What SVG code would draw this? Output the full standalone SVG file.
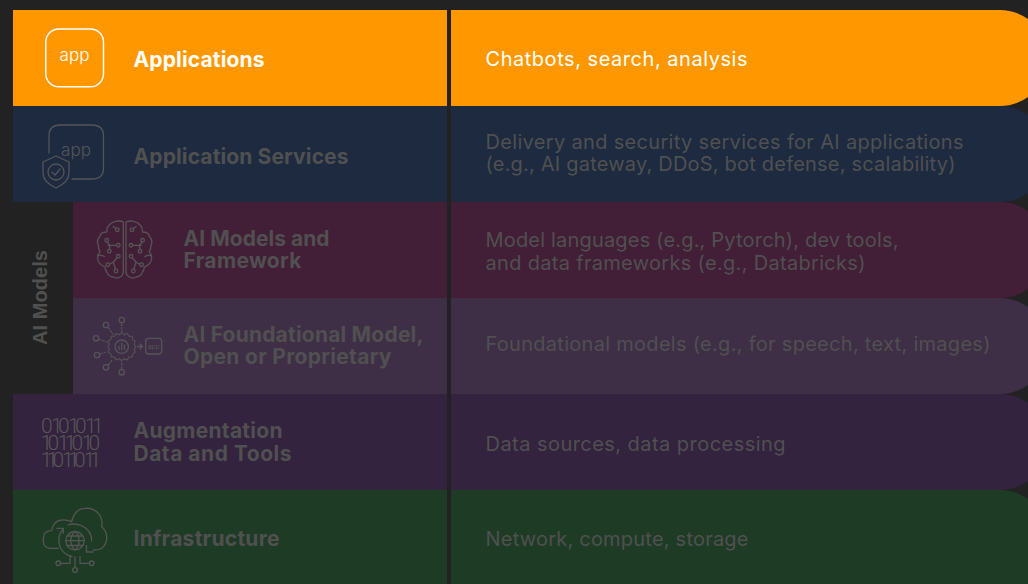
<svg xmlns="http://www.w3.org/2000/svg" width="1028" height="584" viewBox="0 0 1028 584">
<defs>
<style>
text{font-variant-ligatures:none}
.h{font-family:"Inter","Liberation Sans",sans-serif;font-weight:700;font-size:21px;fill:#505050}
.d{font-family:"Inter","Liberation Sans",sans-serif;font-size:20px;fill:#505050}
.a{font-family:"Inter","Liberation Sans",sans-serif;font-weight:300;font-size:17px;fill:#555;text-anchor:middle}
.b{font-family:"Roboto","Liberation Sans",sans-serif;font-weight:300;font-size:21px;fill:#585858}
.i{fill:none;stroke:#555;stroke-width:1.3;stroke-linecap:round;stroke-linejoin:round}
</style>
<g id="half-brain">
<path class="i" d="M123.300 222C119 220 112 221 108.300 226C106.700 228 106.700 230 106.700 232C103 232 100.500 233.500 100 236C97.500 239 97 243 98.300 245.300C98.300 248 99 250 100 252L97.700 255.300C97.500 259 98 262 100 263.700C101.500 265.500 103 266.500 105 267C105 269 105.500 270.500 106.700 272C108 275 110.500 277 113.300 277C116 278.500 118.500 278 120 277C122 276 123.300 274 123.300 272Z"/>
<path class="i" d="M113.300 226.500L116 228.800M108 245.300H116.300M107.300 242.300L110 245.300L109.300 249.300M117 258L113.300 262L115.500 269M113.300 262L109.800 264.300M98 255.500C101 255 103 255.500 104.500 256.500"/>
<circle class="i" cx="117.300" cy="229.700" r="1.800"/><circle class="i" cx="106.700" cy="240.300" r="1.800"/><circle class="i" cx="118.300" cy="245.300" r="1.800"/><circle class="i" cx="109.300" cy="251.300" r="1.800"/><circle class="i" cx="118.300" cy="256.300" r="1.800"/><circle class="i" cx="107.700" cy="264.700" r="1.800"/><circle class="i" cx="116" cy="271" r="1.800"/>
</g>
</defs>
<rect width="1028" height="584" fill="#222"/>
<g id="band-infra"><rect x="13" y="490" width="1035" height="140" rx="48" fill="#1e3b26"/><rect x="13" y="490" width="430" height="94" fill="#1e3b26"/></g>
<g id="band-aug"><rect x="13" y="394" width="1035" height="96" rx="48" fill="#33233e"/><rect x="13" y="394" width="430" height="96" fill="#33233e"/></g>
<g id="band-found"><rect x="73" y="298" width="975" height="96" rx="48" fill="#3e2f47"/><rect x="73" y="298" width="370" height="96" fill="#3e2f47"/></g>
<g id="band-models"><rect x="73" y="202" width="975" height="96" rx="48" fill="#421f37"/><rect x="73" y="202" width="370" height="96" fill="#421f37"/></g>
<g id="band-services"><rect x="13" y="106" width="1035" height="96" rx="48" fill="#1d2a40"/><rect x="13" y="106" width="430" height="96" fill="#1d2a40"/></g>
<g id="band-apps"><rect x="13" y="10" width="1035" height="96" rx="48" fill="#ff9800"/><rect x="13" y="10" width="430" height="96" fill="#ff9800"/></g>
<g id="connectors"><rect x="447" y="10" width="4" height="574" fill="#222"/></g>

<g id="node-apps">
<rect x="45.800" y="29" width="57.700" height="57.700" rx="13" fill="none" stroke="#fff" stroke-width="1.400"/>
<text class="a" x="74.500" y="61" style="fill:#fff" textLength="30">app</text>
<text class="h" x="133.500" y="66.500" style="fill:#fff" textLength="131">Applications</text>
<text class="d" x="485.500" y="66" style="fill:#fff" textLength="262">Chatbots, search, analysis</text>
</g>
<g id="node-services">
<path class="i" d="M49 153V136Q49 125 60 125H92Q103.500 125 103.500 136V168Q103.500 179 92 179H72"/>
<text class="a" x="76" y="156" textLength="30">app</text>
<path class="i" d="M56 156L69 162V173Q69 182 56 188Q43 182 43 173V162Z"/>
<circle class="i" cx="56" cy="172" r="8"/>
<path class="i" d="M52 172L55 175L60 169"/>
<text class="h" x="133.500" y="163.500" textLength="215">Application Services</text>
<text class="d" x="485.500" y="149" textLength="478">Delivery and security services for AI applications</text>
<text class="d" x="485.500" y="171" textLength="470">(e.g., AI gateway, DDoS, bot defense, scalability)</text>
</g>
<g id="node-group"><text transform="translate(47 297.500) rotate(-90)" text-anchor="middle" textLength="95" style="font-family:'Liberation Sans',sans-serif;font-weight:700;font-size:20px;fill:#505050">AI Models</text></g>
<g id="node-models">
<use href="#half-brain"/>
<use href="#half-brain" transform="translate(249.300 0) scale(-1 1)"/>
<text class="h" x="183.500" y="245.500" textLength="146">AI Models and</text>
<text class="h" x="183.500" y="267.500" textLength="118">Framework</text>
<text class="d" x="485.500" y="247" textLength="413">Model languages (e.g., Pytorch), dev tools,</text>
<text class="d" x="485.500" y="270" textLength="380">and data frameworks (e.g., Databricks)</text>
</g>
<g id="node-found">
<path class="i" transform="translate(121.700 346.700) scale(.8) translate(-121 -348)" d="M121 330.500L124 333L128 331.500L130 335L134 335L134.500 339L138 341L136.500 345L138.500 348L136.500 351L138 355L134.500 357L134 361L130 361L128 364.500L124 363L121 365.500L118 363L114 364.500L112 361L108 361L107.500 357L104 355L105.500 351L103.500 348L105.500 345L104 341L107.500 339L108 335L112 335L114 331.500L118 333Z"/>
<circle class="i" cx="121.700" cy="346.700" r="6.700"/>
<path class="i" d="M119 349.500V346.500M121.700 349.500V343M124.400 349.500V345"/>
<g class="i"><circle cx="121.700" cy="320" r="2.700"/><circle cx="106" cy="325" r="2.700"/><circle cx="96" cy="338.300" r="2.700"/><circle cx="97" cy="355" r="2.700"/><circle cx="106" cy="367.300" r="2.700"/><circle cx="121.700" cy="372.300" r="2.700"/></g>
<path class="i" stroke-dasharray="1.500 2" d="M121.700 324V332M108.500 328L113 334M99.500 339.500L107 342M100.500 354L107 351.500M108.500 364.500L113 359.500M121.700 368.500V361"/>
<path class="i" d="M137.500 346.500H142.500M140 344L142.500 346.500L140 349"/>
<rect class="i" x="145.700" y="338.300" width="16" height="15.700" rx="3"/>
<text x="153.700" y="348.500" text-anchor="middle" style="font-size:6.500px;fill:#555;font-family:Inter,sans-serif">app</text>
<text class="h" x="183.500" y="341.500" textLength="240">AI Foundational Model,</text>
<text class="h" x="183.500" y="363.500" textLength="208">Open or Proprietary</text>
<text class="d" x="485.500" y="351" textLength="505">Foundational models (e.g., for speech, text, images)</text>
</g>
<g id="node-aug">
<text class="b" x="41 51 58 68 75 85 92" y="433">0101011</text>
<text class="b" x="40.500 47.500 57.500 64.500 71.500 81.500 88.500" y="450">1011010</text>
<text class="b" x="40.500 46.500 52.500 62 68 74 83.500 89.500" y="467">11011011</text>
<text class="h" x="133.500" y="437.500" textLength="149">Augmentation</text>
<text class="h" x="133.500" y="460.500" textLength="158">Data and Tools</text>
<text class="d" x="485.500" y="451" textLength="300">Data sources, data processing</text>
</g>
<g id="node-infra">
<path class="i" d="M58.300 548.300H50C46 548 43.300 545 43.300 541.700C43 537 44 534.500 45 533C47 531.500 49 530.700 51.700 530.700C52 527.500 53 525 55 523C57 521 59 520 61.700 520C65 519.500 69 520.500 71.700 521.700C72.500 517.500 74 514.500 76.700 511.700C79 509.500 82 508.300 85 508.300C91 508 95.500 510 98.300 513.300C101.500 517 102.500 522 101.700 526.700C104.500 529 106.500 533 106.700 536.700C107 541.500 105 545.500 101.700 548.300C99 550 96 550 93.300 550"/>
<circle class="i" cx="75" cy="540.700" r="9.200"/>
<path class="i" d="M65.800 540.700H84.200M67 536H83M67 545.500H83M75 531.500C69.500 536 69.500 545.500 75 550C80.500 545.500 80.500 536 75 531.500Z"/>
<path class="i" d="M68 525C75 522.500 84 525 88.500 531C91 534.500 92 538 91.500 541"/>
<path class="i" d="M63 529.500C58.500 534 57.500 542 60.500 548C63 552.500 67 555.500 72 556.500"/>
<path class="i" d="M57 528.300H63.300V533.300M93 552H86.500V545.500"/>
<path class="i" d="M60.600 563.300H70V556.700M89.400 563.300H80V556.700M75 557V567.500"/>
<circle class="i" cx="58.300" cy="563.300" r="2.300"/><circle class="i" cx="91.700" cy="563.300" r="2.300"/><circle class="i" cx="75" cy="570" r="2.400"/>
<text class="h" x="133.500" y="546" textLength="146">Infrastructure</text>
<text class="d" x="485.500" y="546" textLength="263">Network, compute, storage</text>
</g>
</svg>
